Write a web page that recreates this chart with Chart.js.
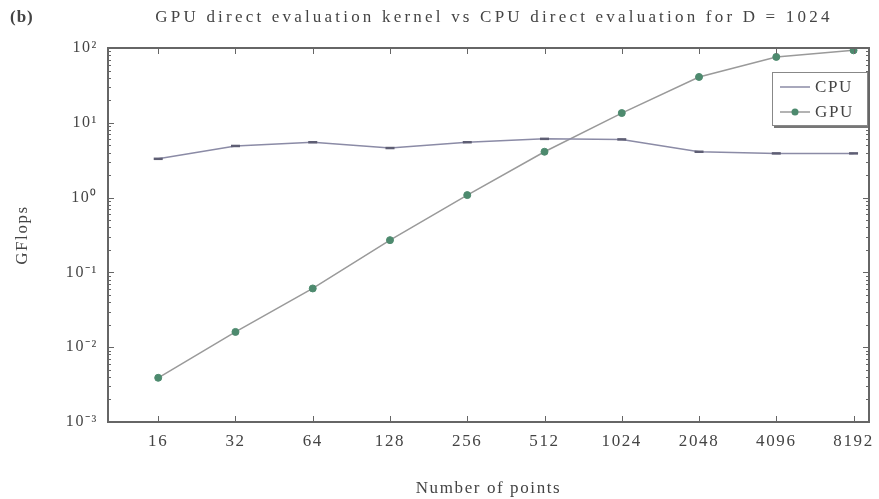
<!DOCTYPE html>
<html>
<head>
<meta charset="utf-8">
<script src="https://cdn.jsdelivr.net/npm/chart.js@4.4.1/dist/chart.umd.min.js"></script>
<style>
  html, body { margin: 0; padding: 0; background: #fff; }
  canvas { display: block; }
</style>
</head>
<body>
<canvas id="flopsChart" width="879" height="499"></canvas>
<script>
const pointCounts = ['16', '32', '64', '128', '256', '512', '1024', '2048', '4096', '8192'];
const cpuGflops = [3.3, 4.9, 5.5, 4.6, 5.5, 6.1, 6.0, 4.1, 3.9, 3.9];
const gpuGflops = [0.0039, 0.016, 0.061, 0.27, 1.08, 4.1, 13.5, 41, 76, 93];
const yDecades = [1e-3, 1e-2, 1e-1, 1, 10, 100];
const yDecadeLabels = ['10⁻³', '10⁻²', '10⁻¹', '10⁰', '10¹', '10²'];

const serif = '"Liberation Serif", "Times New Roman", serif';
const textColor = '#444';
const frameColor = '#666';

// spacing out glyphs a little, set before layout so label sizes include it
const spacing = {
    id: 'spacing',
    beforeUpdate(chart) { chart.ctx.letterSpacing = '1.6px'; },
    beforeDraw(chart) { chart.ctx.letterSpacing = '1.6px'; }
};

// box around the plot, inward tick marks on all sides, title and legend
const decorations = {
    id: 'decorations',
    afterDraw(chart) {
        const { ctx, chartArea: a, scales } = chart;
        const xs = scales.x, ys = scales.y;
        ctx.save();
        ctx.strokeStyle = frameColor;
        ctx.lineWidth = 2;
        ctx.strokeRect(a.left, a.top, a.right - a.left, a.bottom - a.top);

        ctx.lineWidth = 1;
        ctx.beginPath();
        pointCounts.forEach((_, i) => {
            const px = Math.round(xs.getPixelForValue(i)) + 0.5;
            ctx.moveTo(px, a.bottom); ctx.lineTo(px, a.bottom - 6);
            ctx.moveTo(px, a.top); ctx.lineTo(px, a.top + 6);
        });
        yDecades.forEach((d, di) => {
            const steps = di === yDecades.length - 1 ? [1] : [1, 2, 3, 4, 5, 6, 7, 8, 9];
            steps.forEach(k => {
                const py = Math.round(ys.getPixelForValue(k * d)) + 0.5;
                const len = k === 1 ? 6 : 3;
                ctx.moveTo(a.left, py); ctx.lineTo(a.left + len, py);
                ctx.moveTo(a.right, py); ctx.lineTo(a.right - len, py);
            });
        });
        ctx.stroke();

        ctx.fillStyle = textColor;
        ctx.textBaseline = 'middle';
        ctx.letterSpacing = '1px';
        ctx.font = 'bold 17px ' + serif;
        ctx.textAlign = 'left';
        ctx.fillText('(b)', 10, 18);
        ctx.letterSpacing = '3.2px';
        ctx.font = '17px ' + serif;
        ctx.textAlign = 'center';
        ctx.fillText('GPU direct evaluation kernel vs CPU direct evaluation for D = 1024', 494, 18);

        // legend
        const lx = 772, ly = 72, lw = 95, lh = 53;
        ctx.fillStyle = '#fff';
        ctx.fillRect(lx, ly, lw, lh);
        ctx.strokeStyle = '#888';
        ctx.lineWidth = 1;
        ctx.strokeRect(lx + 0.5, ly + 0.5, lw, lh);
        ctx.strokeStyle = '#777';
        ctx.lineWidth = 2;
        ctx.beginPath();
        ctx.moveTo(lx + 2, ly + lh + 2); ctx.lineTo(lx + lw + 1, ly + lh + 2);
        ctx.stroke();

        chart.data.datasets.forEach((ds, i) => {
            const y = ly + 15 + i * 25;
            ctx.strokeStyle = ds.borderColor;
            ctx.lineWidth = ds.borderWidth;
            ctx.beginPath();
            ctx.moveTo(lx + 8, y); ctx.lineTo(lx + 38, y);
            ctx.stroke();
            if (ds.pointStyle === 'circle') {
                ctx.fillStyle = ds.pointBackgroundColor;
                ctx.beginPath();
                ctx.arc(lx + 23, y, ds.pointRadius, 0, Math.PI * 2);
                ctx.fill();
            }
            ctx.fillStyle = textColor;
            ctx.textAlign = 'left';
            ctx.letterSpacing = '1.6px';
            ctx.font = '17px ' + serif;
            ctx.fillText(ds.label, lx + 43, y + 1);
        });
        ctx.restore();
    }
};

new Chart(document.getElementById('flopsChart'), {
    type: 'line',
    data: {
        datasets: [{
            label: 'CPU',
            data: cpuGflops.map((v, i) => ({ x: i, y: v })),
            borderColor: '#8b8ba6',
            borderWidth: 1.5,
            pointStyle: 'line',
            pointRadius: 4.5,
            pointBorderColor: '#5e5e74',
            pointBorderWidth: 2.5,
            tension: 0
        }, {
            label: 'GPU',
            data: gpuGflops.map((v, i) => ({ x: i, y: v })),
            borderColor: '#9a9a9a',
            borderWidth: 1.5,
            pointStyle: 'circle',
            pointRadius: 3.5,
            pointBackgroundColor: '#4d8a6e',
            pointBorderColor: '#4d8a6e',
            pointBorderWidth: 1,
            tension: 0
        }]
    },
    options: {
        responsive: false,
        animation: false,
        layout: { padding: { top: 48, right: 10, left: 0, bottom: 0 } },
        plugins: {
            legend: { display: false },
            tooltip: { enabled: false }
        },
        scales: {
            x: {
                type: 'linear',
                min: -0.65,
                max: 9.2,
                afterBuildTicks: scale => {
                    scale.ticks = pointCounts.map((_, i) => ({ value: i }));
                },
                afterFit: scale => {
                    scale.height = 77;
                    scale.paddingLeft = 0;
                    scale.paddingRight = 0;
                },
                ticks: {
                    callback: v => pointCounts[v],
                    font: { family: serif, size: 17 },
                    color: textColor,
                    padding: 9,
                    maxRotation: 0,
                    autoSkip: false
                },
                grid: { display: false, drawTicks: false },
                border: { display: false },
                title: {
                    display: true,
                    text: 'Number of points',
                    font: { family: serif, size: 17 },
                    color: textColor,
                    padding: { top: 0, bottom: 0 }
                }
            },
            y: {
                type: 'logarithmic',
                min: 1e-3,
                max: 100,
                afterBuildTicks: scale => {
                    scale.ticks = yDecades.map(v => ({ value: v }));
                },
                afterFit: scale => { scale.width = 108; },
                ticks: {
                    callback: (v, i) => yDecadeLabels[i],
                    font: { family: serif, size: 16 },
                    color: textColor,
                    padding: 10,
                    autoSkip: false
                },
                grid: { display: false, drawTicks: false },
                border: { display: false },
                title: {
                    display: true,
                    text: 'GFlops',
                    font: { family: serif, size: 17 },
                    color: textColor,
                    padding: { top: 12, bottom: 0 }
                }
            }
        }
    },
    plugins: [spacing, decorations]
});
</script>
</body>
</html>
